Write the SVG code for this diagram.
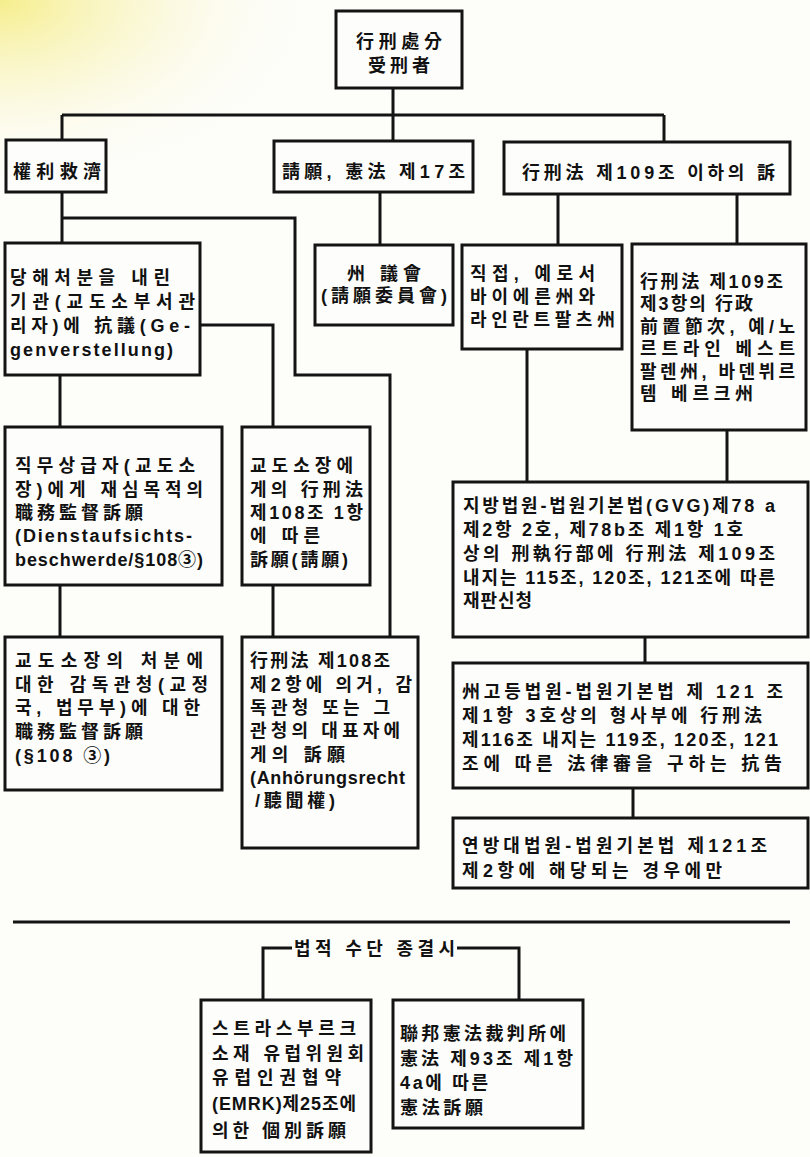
<svg xmlns="http://www.w3.org/2000/svg" width="810" height="1157" viewBox="0 0 810 1157">
<defs>
<radialGradient id="glow" cx="0" cy="0" r="1" gradientUnits="userSpaceOnUse" gradientTransform="translate(0 0) scale(320 190)">
<stop offset="0" stop-color="#f4ea70" stop-opacity="0.8"/>
<stop offset="0.5" stop-color="#f8f2b0" stop-opacity="0.4"/>
<stop offset="1" stop-color="#ffffff" stop-opacity="0"/>
</radialGradient>
<style>
.box{fill:#fdfdfb;stroke:#141414;stroke-width:3}
.ln{fill:none;stroke:#141414;stroke-width:3}
.t{font-family:"Liberation Sans","Noto Sans CJK KR","Noto Sans CJK SC",sans-serif;font-size:18px;font-weight:700;fill:#111}
.c{text-anchor:middle}
</style>
</defs>
<rect x="0" y="0" width="810" height="1157" fill="#fdfdf9"/>
<rect x="0" y="0" width="810" height="1157" fill="url(#glow)"/>

<g id="connectors">
<path class="ln" d="M393 88V143"/>
<path class="ln" d="M62 115H664"/>
<path class="ln" d="M62 115V140"/>
<path class="ln" d="M664 115V142"/>
<path class="ln" d="M62 192V243"/>
<path class="ln" d="M62 218H295V375H390V637"/>
<path class="ln" d="M380 192V245"/>
<path class="ln" d="M558 194V245"/>
<path class="ln" d="M737 194V244"/>
<path class="ln" d="M200 325H273V427"/>
<path class="ln" d="M60 375V427"/>
<path class="ln" d="M60 585V637"/>
<path class="ln" d="M273 585V637"/>
<path class="ln" d="M527 349V482"/>
<path class="ln" d="M727 430V482"/>
<path class="ln" d="M645 637V663"/>
<path class="ln" d="M633 788V818"/>
<path class="ln" d="M13 922H790"/>
<path class="ln" d="M263 1000V948H292"/>
<path class="ln" d="M457 948H519V1000"/>
</g>

<g id="root">
<rect class="box" x="336" y="11" width="126" height="77"/>
<text class="t c" x="399" y="48" textLength="86">行刑處分</text>
<text class="t c" x="399" y="72" textLength="62">受刑者</text>
</g>

<g id="n-remedy">
<rect class="box" x="6" y="140" width="100" height="52"/>
<text class="t" x="13" y="178" textLength="88">權利救濟</text>
</g>

<g id="n-petition">
<rect class="box" x="274" y="141" width="199" height="51"/>
<text class="t" x="282" y="178" textLength="183">請願, 憲法 제17조</text>
</g>

<g id="n-suit">
<rect class="box" x="504" y="142" width="286" height="52"/>
<text class="t" x="522" y="179" textLength="253">行刑法 제109조 이하의 訴</text>
</g>

<g id="n-landtag">
<rect class="box" x="315" y="245" width="138" height="80"/>
<text class="t c" x="384" y="280" textLength="74">州 議會</text>
<text class="t c" x="384" y="302" textLength="126">(請願委員會)</text>
</g>

<g id="n-direct">
<rect class="box" x="462" y="245" width="160" height="104"/>
<text class="t" x="470" y="280" textLength="125">직접, 예로서</text>
<text class="t" x="470" y="303" textLength="125">바이에른州와</text>
<text class="t" x="470" y="326" textLength="145">라인란트팔츠州</text>
</g>

<g id="n-preliminary">
<rect class="box" x="632" y="244" width="174" height="186"/>
<text class="t" x="640" y="288" textLength="143">行刑法 제109조</text>
<text class="t" x="640" y="310" textLength="113">제3항의 行政</text>
<text class="t" x="640" y="333" textLength="155">前置節次, 예/노</text>
<text class="t" x="640" y="355" textLength="155">르트라인 베스트</text>
<text class="t" x="640" y="378" textLength="155">팔렌州, 바덴뷔르</text>
<text class="t" x="640" y="400" textLength="113">템 베르크州</text>
</g>

<g id="n-objection">
<rect class="box" x="5" y="243" width="195" height="132"/>
<text class="t" x="10" y="284" textLength="160">당해처분을 내린</text>
<text class="t" x="10" y="308" textLength="185">기관(교도소부서관</text>
<text class="t" x="10" y="332" textLength="180">리자)에 抗議(Ge-</text>
<text class="t" x="10" y="356" textLength="163">genverstellung)</text>
</g>

<g id="n-superior">
<rect class="box" x="5" y="427" width="217" height="158"/>
<text class="t" x="15" y="472" textLength="180">직무상급자(교도소</text>
<text class="t" x="15" y="496" textLength="188">장)에게 재심목적의</text>
<text class="t" x="15" y="519" textLength="128">職務監督訴願</text>
<text class="t" x="15" y="542" textLength="177">(Dienstaufsichts-</text>
<text class="t" x="15" y="566" textLength="188">beschwerde/§108③)</text>
</g>

<g id="n-warden">
<rect class="box" x="242" y="427" width="128" height="158"/>
<text class="t" x="250" y="472" textLength="103">교도소장에</text>
<text class="t" x="250" y="496" textLength="113">게의 行刑法</text>
<text class="t" x="250" y="519" textLength="113">제108조 1항</text>
<text class="t" x="250" y="542" textLength="70">에 따른</text>
<text class="t" x="250" y="566" textLength="98">訴願(請願)</text>
</g>

<g id="n-supervisory">
<rect class="box" x="5" y="637" width="217" height="153"/>
<text class="t" x="15" y="667" textLength="188">교도소장의 처분에</text>
<text class="t" x="15" y="691" textLength="193">대한 감독관청(교정</text>
<text class="t" x="15" y="714" textLength="185">국, 법무부)에 대한</text>
<text class="t" x="15" y="738" textLength="128">職務監督訴願</text>
<text class="t" x="15" y="762" textLength="95">(§108 ③)</text>
</g>

<g id="n-hearing">
<rect class="box" x="242" y="637" width="176" height="211"/>
<text class="t" x="250" y="667" textLength="140">行刑法 제108조</text>
<text class="t" x="250" y="691" textLength="162">제2항에 의거, 감</text>
<text class="t" x="250" y="714" textLength="140">독관청 또는 그</text>
<text class="t" x="250" y="737" textLength="150">관청의 대표자에</text>
<text class="t" x="250" y="761" textLength="95">게의 訴願</text>
<text class="t" x="250" y="784" textLength="155">(Anhörungsrecht</text>
<text class="t" x="255" y="807" textLength="80">/聽聞權)</text>
</g>

<g id="n-district">
<rect class="box" x="453" y="482" width="355" height="155"/>
<text class="t" x="463" y="512" textLength="312">지방법원-법원기본법(GVG)제78 a</text>
<text class="t" x="463" y="536" textLength="280">제2항 2호, 제78b조 제1항 1호</text>
<text class="t" x="463" y="560" textLength="312">상의 刑執行部에 行刑法 제109조</text>
<text class="t" x="463" y="584" textLength="312">내지는 115조, 120조, 121조에 따른</text>
<text class="t" x="463" y="607" textLength="69">재판신청</text>
</g>

<g id="n-higher">
<rect class="box" x="453" y="663" width="355" height="125"/>
<text class="t" x="462" y="698" textLength="321">州고등법원-법원기본법 제 121 조</text>
<text class="t" x="462" y="722" textLength="300">제1항 3호상의 형사부에 行刑法</text>
<text class="t" x="462" y="746" textLength="316">제116조 내지는 119조, 120조, 121</text>
<text class="t" x="462" y="770" textLength="320">조에 따른 法律審을 구하는 抗告</text>
</g>

<g id="n-federal">
<rect class="box" x="453" y="818" width="355" height="70"/>
<text class="t" x="462" y="852" textLength="305">연방대법원-법원기본법 제121조</text>
<text class="t" x="462" y="877" textLength="260">제2항에 해당되는 경우에만</text>
</g>

<g id="label-exhausted">
<text class="t" x="294" y="955" textLength="161">법적 수단 종결시</text>
</g>

<g id="n-strasbourg">
<rect class="box" x="201" y="1000" width="170" height="152"/>
<text class="t" x="212" y="1035" textLength="144">스트라스부르크</text>
<text class="t" x="212" y="1060" textLength="152">소재 유럽위원회</text>
<text class="t" x="212" y="1084" textLength="129">유럽인권협약</text>
<text class="t" x="212" y="1110" textLength="144">(EMRK)제25조에</text>
<text class="t" x="212" y="1137" textLength="134">의한 個別訴願</text>
</g>

<g id="n-constitutional">
<rect class="box" x="393" y="1000" width="190" height="128"/>
<text class="t" x="400" y="1040" textLength="166">聯邦憲法裁判所에</text>
<text class="t" x="400" y="1065" textLength="173">憲法 제93조 제1항</text>
<text class="t" x="400" y="1089" textLength="88">4a에 따른</text>
<text class="t" x="400" y="1114" textLength="83">憲法訴願</text>
</g>
</svg>
